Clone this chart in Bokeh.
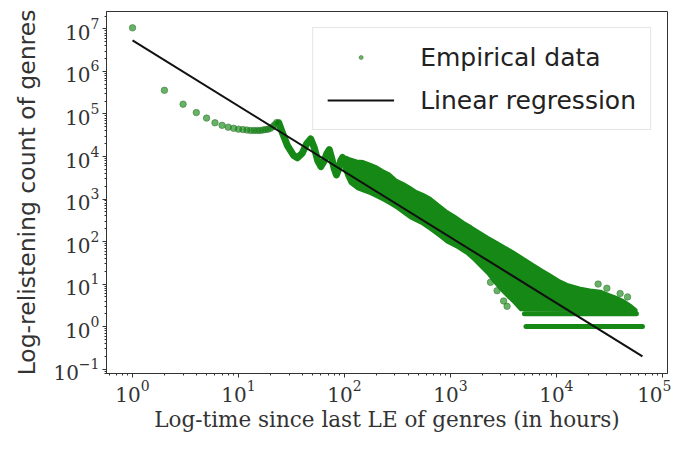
from bokeh.plotting import figure
from bokeh.models import Range1d, Legend, LegendItem
from bokeh.embed import file_html
from bokeh.resources import INLINE

# ---- data (hours since last LE, relistening count) ----
early_hours = list(range(1, 24))
early_counts = [1.06e7, 3.6e5, 1.7e5, 1.08e5, 8.0e4, 6.2e4, 5.4e4, 4.9e4, 4.6e4,
                4.4e4, 4.3e4, 4.2e4, 4.1e4, 4.1e4, 4.1e4, 4.1e4, 4.2e4, 4.3e4,
                4.4e4, 4.6e4, 5.0e4, 5.6e4, 6.3e4]

# daily oscillation (thick run of hourly points)
osc_hours = [24, 26, 29, 33, 36, 40, 44, 48, 52, 56, 60, 64, 68, 72, 76, 80, 84, 88, 92, 96]
osc_counts = [6.2e4, 3.6e4, 1.8e4, 1.07e4, 9.3e3, 1.2e4, 2.0e4, 2.6e4, 1.6e4, 7.9e3,
              5.8e3, 7.6e3, 1.15e4, 1.45e4, 8.9e3, 5.2e3, 3.7e3, 5.0e3, 7.9e3, 9.5e3]

# dense cloud of points: upper and lower envelope
band_upper_hours = [96, 104, 112, 131, 151, 175, 200, 233, 269, 313, 363, 417, 483, 562, 646,
                    776, 929, 1120, 1350, 1585, 1920, 2290, 2750, 3310, 3960, 4900, 6120,
                    7410, 8910, 10700, 12700, 16900, 20900, 26200, 31600, 37700, 43600,
                    50400, 57500]
band_upper_counts = [9.5e3, 1.0e4, 9.3e3, 8.2e3, 7.9e3, 6.9e3, 6.0e3, 4.8e3, 4.0e3, 2.85e3,
                     2.4e3, 1.95e3, 1.54e3, 1.32e3, 1.09e3, 760, 537, 400, 290, 229, 170,
                     129, 100, 76, 59, 42, 29.5, 21.9, 16.6, 12.6, 10.2, 8.3, 7.6, 7.1, 5.9,
                     5.0, 4.2, 3.3, 2.5]
band_lower_hours = [96, 104, 112, 131, 151, 175, 200, 233, 269, 313, 363, 418, 525, 646, 776,
                    929, 1150, 1435, 1660, 1920, 2220, 2560, 2950, 3430, 3980, 4570, 57500]
band_lower_counts = [6.0e3, 3.4e3, 2300, 1700, 1480, 1290, 1100, 912, 741, 589, 447, 347, 263,
                     186, 132, 93, 71, 50, 36, 25, 17.4, 11, 7.4, 5.0, 3.5, 2.4, 2.2]

# rows of points at count 2 and count 1
row2_hours = [5000, 57000]
row2_counts = [2, 2]
row1_hours = [5170, 65000]
row1_counts = [1, 1]

# isolated points around the cloud
sparse_hours = [2390, 2760, 3180, 3430, 24800, 30000, 40000, 47000]
sparse_counts = [11, 7, 4, 3, 10, 8, 6, 5]

# linear regression (log-log)
reg_hours = [1, 65000]
reg_counts = [5.4e6, 0.2]

x_limits = (0.568, 1.12e5)
y_limits = (0.079, 2.57e7)

GREEN = "#168816"

p = figure(width=671, height=434, x_axis_type="log", y_axis_type="log",
           x_range=Range1d(*x_limits), y_range=Range1d(*y_limits),
           output_backend="svg", toolbar_location=None,
           min_border_left=106, min_border_right=4, min_border_top=11, min_border_bottom=50)

p.grid.visible = False
p.outline_line_color = "#333333"
p.outline_line_width = 1
p.background_fill_color = "white"

# dense band
band_x = band_upper_hours + band_lower_hours[::-1]
band_y = band_upper_counts + band_lower_counts[::-1]
p.patch(band_x, band_y, fill_color=GREEN, line_color=GREEN, line_width=1.5)

p.line(osc_hours, osc_counts, line_color=GREEN, line_width=7, line_join="round", line_cap="round")
p.line(row2_hours, row2_counts, line_color=GREEN, line_width=5, line_cap="round")
p.line(row1_hours, row1_counts, line_color=GREEN, line_width=5, line_cap="round")

r_sc = p.scatter(early_hours + sparse_hours, early_counts + sparse_counts, size=6.5,
                 fill_color="green", fill_alpha=0.6, line_color="#3c7a3c", line_alpha=0.6)

r_reg = p.line(reg_hours, reg_counts, line_color="#111111", line_width=2)

legend = Legend(items=[LegendItem(label="Empirical data", renderers=[r_sc]),
                       LegendItem(label="Linear regression", renderers=[r_reg])],
                location="top_right", margin=16, padding=14, spacing=13,
                glyph_width=67, glyph_height=10, label_height=30, label_standoff=26,
                label_text_font="DejaVu Sans", label_text_font_size="25px",
                label_text_color="#222222", border_line_color="#cccccc",
                border_line_width=1, background_fill_color="white",
                background_fill_alpha=0.85)
p.add_layout(legend)

for ax in (p.xaxis[0], p.yaxis[0]):
    ax.major_label_text_font = "DejaVu Serif"
    ax.major_label_text_font_size = "20px"
    ax.major_label_text_color = "#333333"
    ax.axis_line_color = "#333333"
    ax.major_tick_line_color = "#333333"
    ax.minor_tick_line_color = "#333333"
    ax.major_tick_in = 0
    ax.major_tick_out = 4
    ax.minor_tick_in = 0
    ax.minor_tick_out = 2
    ax.axis_label_text_font_style = "normal"
    ax.axis_label_text_color = "#333333"

p.xaxis.axis_label = "Log-time since last LE of genres (in hours)"
p.xaxis.axis_label_text_font = "DejaVu Serif"
p.xaxis.axis_label_text_font_size = "21.5px"
p.xaxis.major_label_standoff = 2
p.xaxis.axis_label_standoff = 2

p.yaxis.axis_label = "Log-relistening count of genres"
p.yaxis.axis_label_text_font = "DejaVu Sans"
p.yaxis.axis_label_text_font_size = "23.5px"
p.yaxis.major_label_standoff = 3
p.yaxis.axis_label_standoff = 9

open("out.html", "w").write(file_html(p, INLINE))
